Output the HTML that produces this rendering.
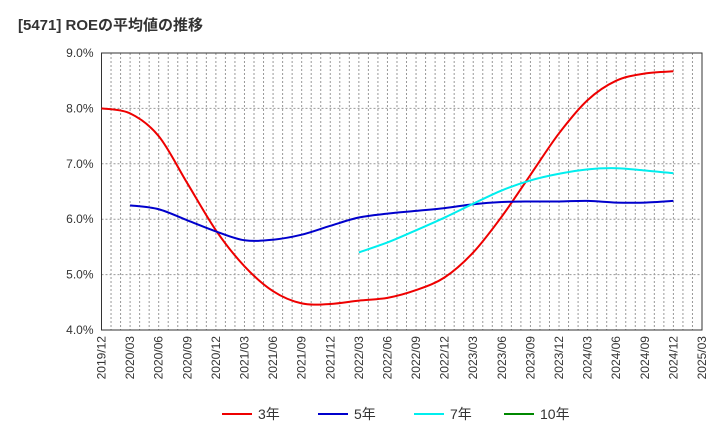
<!DOCTYPE html>
<html><head><meta charset="utf-8"><style>
body{margin:0;background:#fff;font-family:"Liberation Sans","Noto Sans CJK JP",sans-serif}
</style></head><body>
<svg id="c" width="720" height="440" xmlns="http://www.w3.org/2000/svg">
<text x="18" y="30" font-size="15" font-weight="bold" fill="#333">[5471]  ROEの平均値の推移</text>
</svg>
<script>
const categories=["2019/12","2020/03","2020/06","2020/09","2020/12","2021/03","2021/06","2021/09","2021/12","2022/03","2022/06","2022/09","2022/12","2023/03","2023/06","2023/09","2023/12","2024/03","2024/06","2024/09","2024/12","2025/03"];
const yTicks=[4,5,6,7,8,9];
const s3=[8.0,7.91,7.5,6.65,5.8,5.15,4.7,4.48,4.47,4.53,4.58,4.72,4.95,5.4,6.05,6.8,7.55,8.15,8.5,8.63,8.67,null];
const s5=[null,6.25,6.18,5.98,5.78,5.62,5.63,5.72,5.88,6.03,6.1,6.15,6.2,6.27,6.31,6.32,6.32,6.33,6.3,6.3,6.33,null];
const s7=[null,null,null,null,null,null,null,null,null,5.4,5.58,5.8,6.03,6.28,6.52,6.7,6.82,6.9,6.92,6.88,6.83,null];
const s10=[];
const NS="http://www.w3.org/2000/svg",svg=document.getElementById('c');
const L=101.5,R=702,T=53,B=330;
const xs=i=>L+i*(R-L)/(categories.length-1);
const ys=v=>B-(v-4)/(9-4)*(B-T);
function el(t,a,p){const e=document.createElementNS(NS,t);for(const k in a)e.setAttribute(k,a[k]);(p||svg).appendChild(e);return e;}
el('rect',{x:L,y:T,width:R-L,height:B-T,fill:'#fff'});
const grid=el('g',{});


const nM=(categories.length-1)*3;
for(let m=1;m<nM;m++){const x=L+m*(R-L)/nM;el('line',{x1:x,x2:x,y1:T,y2:B,stroke:'#999','stroke-dasharray':'2,2','stroke-width':1},grid);}
yTicks.forEach(v=>{const y=ys(v);el('line',{x1:L,x2:R,y1:y,y2:y,stroke:'#999','stroke-dasharray':'2,2'},grid);
const t=el('text',{x:L-8,y:y+4,'text-anchor':'end','font-size':12,fill:'#333'});t.textContent=v.toFixed(1)+'%';

});
el('rect',{x:L,y:T,width:R-L,height:B-T,fill:'none',stroke:'#333','stroke-width':1});
categories.forEach((c,i)=>{const x=xs(i);const t=el('text',{x:0,y:0,transform:`translate(${x+4},${B+6}) rotate(-90)`,'text-anchor':'end','font-size':12,fill:'#333'});t.textContent=c;

});
function path(arr,col,name){const pts=[];arr.forEach((v,i)=>{if(v!=null)pts.push([xs(i),ys(v)]);});if(pts.length<2)return;
let d=`M${pts[0][0]},${pts[0][1]}`;
for(let i=0;i<pts.length-1;i++){const p0=pts[i-1]||pts[i],p1=pts[i],p2=pts[i+1],p3=pts[i+2]||p2;
d+=` C${p1[0]+(p2[0]-p0[0])/6},${p1[1]+(p2[1]-p0[1])/6} ${p2[0]-(p3[0]-p1[0])/6},${p2[1]-(p3[1]-p1[1])/6} ${p2[0]},${p2[1]}`;}
const p=el('path',{d:d,fill:'none',stroke:col,'stroke-width':2});

}
path(s3,'#e00','line-3y');path(s5,'#00c','line-5y');path(s7,'#0ee','line-7y');path(s10,'#080','line-10y');
const leg=[['3年','#e00',222],['5年','#00c',318],['7年','#0ee',414],['10年','#080',504]];
leg.forEach(([n,c,x])=>{const g=el('g',{});


el('line',{x1:x,x2:x+30,y1:414,y2:414,stroke:c,'stroke-width':2},g);
const t=el('text',{x:x+36,y:419,'font-size':14,fill:'#333'},g);t.textContent=n;});
</script>
</body></html>
